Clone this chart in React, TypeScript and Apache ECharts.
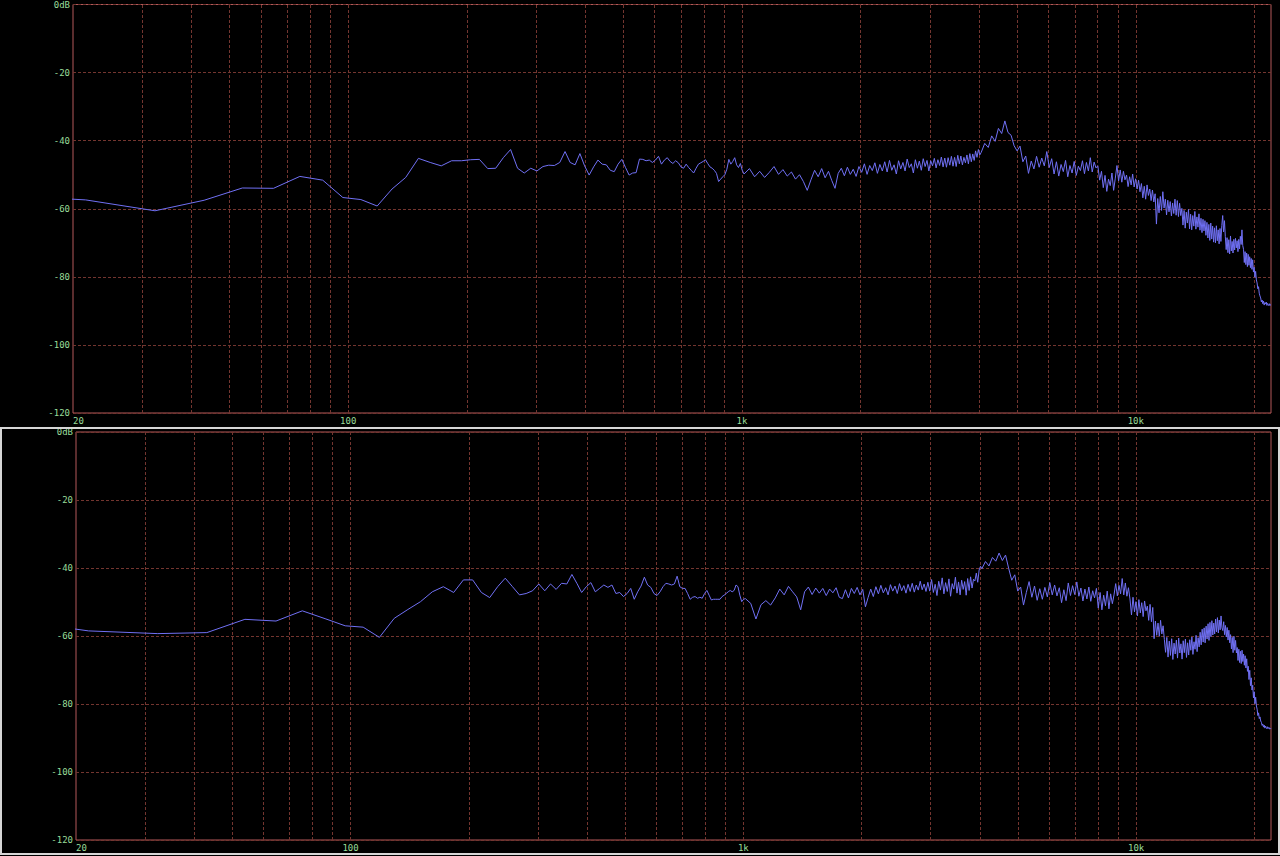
import React, { useEffect, useRef } from "react";
import * as echarts from "echarts";

// FFT bin spacing of the analyser (44.1 kHz, 4096 points)
const SAMPLE_RATE = 44100;
const FFT_SIZE = 4096;
const LOW_START_BIN = 1;
const MID_START_BIN = 94;
const MID_STEP = 3;
const HIGH_START_BIN = 376;
const HIGH_STEP = 8;

const X_MIN = 20;
const X_MAX = 22050;
const Y_MIN = -120;
const Y_MAX = 0;
const Y_STEP = 20;

const xLabelValues = [20, 100, 1000, 10000];
const gridFreqs = [
  30, 40, 50, 60, 70, 80, 90, 100, 200, 300, 400, 500, 600, 700, 800, 900, 1000,
  2000, 3000, 4000, 5000, 6000, 7000, 8000, 9000, 10000, 20000,
];

// ---- upper panel (dB) ----
const topLow = [
  -55.5, -57.4, -60.6, -57.5, -53.9, -54.0, -50.5, -51.6, -56.7, -57.3,
  -59.2, -54.2, -50.8, -45.2, -46.4, -47.4, -45.9, -45.9, -45.6, -45.5,
  -48.2, -48.1, -45.0, -42.6, -48.1, -49.5, -48.1, -48.9, -47.6, -47.2,
  -47.3, -46.4, -43.2, -46.4, -47.1, -43.8, -47.4, -50.1, -47.7, -45.7,
  -46.9, -47.1, -48.7, -49.1, -46.9, -45.5, -47.9, -50.1, -49.5, -49.4,
  -45.4, -45.5, -45.9, -45.7, -46.4, -45.7, -44.6, -46.9, -45.7, -45.0,
  -46.1, -46.7, -45.9, -46.5, -47.7, -48.1, -46.9, -47.9, -48.7, -49.5,
  -48.1, -46.9, -46.5, -46.1, -45.6, -46.7, -47.7, -48.1, -48.7, -49.6,
  -52.0, -51.3, -50.6, -50.0, -48.4, -45.5, -46.9, -46.1, -45.0, -47.1,
  -47.9, -46.7, -48.7,
];
const topMid = [
  -49.8, -48.2, -50.6, -49.0, -50.8, -49.3, -47.6, -49.9, -48.5, -50.4,
  -49.2, -51.3, -50.0, -52.0, -54.6, -51.5, -48.7, -50.6, -48.2, -50.9,
  -49.0, -51.7, -54.0, -49.6, -48.1, -50.3, -47.8, -49.9, -48.4, -50.5,
  -47.6, -49.3, -46.8, -49.9, -47.3, -48.8, -46.5, -49.6, -47.0, -48.9,
  -46.2, -49.2, -45.8, -48.7, -47.1, -49.8, -45.9, -48.3, -46.4, -48.9,
  -45.4, -47.9, -46.8, -49.5, -45.6, -48.1, -46.0, -48.7, -45.3, -47.6,
  -45.8, -48.9, -45.9, -47.4, -45.2, -48.0, -45.6, -47.3, -44.8, -47.7,
  -45.1, -47.8, -45.0, -47.2, -44.6, -47.5, -44.9, -47.6, -44.3, -46.8,
  -44.5, -47.1, -44.9, -46.5, -44.2, -46.8, -43.8, -46.2, -43.9, -45.8,
  -43.0, -44.9, -42.6, -44.2,
];
const topHigh = [
  -43.5, -40.8, -42.0, -38.6, -40.2, -36.4, -37.9, -34.2, -37.6, -38.4,
  -41.5, -43.0, -41.6, -46.2, -44.5, -49.6, -46.0, -48.3, -44.6, -47.8,
  -45.1, -47.4, -43.2, -47.9, -45.3, -49.8, -46.2, -50.4, -47.0, -49.1,
  -45.8, -50.6, -47.3, -49.5, -46.1, -50.2, -47.5, -48.8, -45.9, -49.7,
  -46.4, -48.9, -45.0, -49.2, -46.3, -48.0, -47.4, -51.6, -49.0, -53.8,
  -50.2, -54.9, -51.3, -53.2, -49.5, -54.6, -51.0, -47.3, -51.8, -48.6,
  -52.2, -49.0, -51.5, -50.1, -53.5, -50.6, -53.0, -49.8, -53.6, -51.2,
  -54.2, -51.6, -55.0, -52.6, -56.8, -53.4, -57.2, -53.0, -56.1, -54.2,
  -57.6, -54.5, -58.0, -55.6, -64.5, -57.0, -61.2, -56.4, -60.5, -55.0,
  -59.8, -57.2, -61.8, -57.5, -60.9, -57.9, -62.1, -58.3, -61.4, -57.2,
  -61.9, -57.6, -62.3, -58.4, -62.0, -59.9, -64.8, -60.5, -65.7, -61.0,
  -64.2, -60.2, -65.9, -61.6, -66.2, -62.0, -65.1, -60.8, -66.0, -62.4,
  -65.4, -61.5, -66.3, -62.8, -67.0, -63.1, -66.5, -63.5, -67.8, -64.0,
  -68.6, -64.6, -69.3, -64.2, -68.9, -65.1, -69.8, -65.6, -70.0, -65.0,
  -69.4, -66.2, -70.3, -65.8, -69.6, -64.9, -62.0, -66.8, -63.5, -68.2,
  -72.0, -68.5, -72.9, -69.1, -73.3, -68.0, -72.4, -69.6, -73.0, -69.0,
  -72.1, -68.7, -71.5, -69.4, -72.6, -69.0, -71.8, -68.1, -70.5, -66.2,
  -70.8, -71.9, -75.8, -72.6, -76.4, -73.0, -77.0, -73.4, -76.6, -74.1,
  -77.3, -74.6, -77.8, -75.0, -78.6, -77.2, -80.1, -78.4, -80.9, -81.8,
  -83.5, -82.9, -84.8, -85.6, -86.2, -87.4, -86.8, -87.9, -87.1, -88.3,
  -87.6, -88.0, -87.4, -88.4, -87.8, -88.1, -88.5, -87.9, -88.3, -88.4,
];

// ---- lower panel (dB) ----
const bottomLow = [
  -53.7, -58.5, -59.3, -59.0, -55.1, -55.6, -52.6, -54.9, -57.0, -57.4,
  -60.4, -54.8, -52.2, -49.9, -47.0, -45.5, -47.2, -43.5, -43.5, -47.2,
  -48.7, -45.5, -43.0, -45.5, -47.9, -47.5, -46.7, -44.7, -46.7, -44.7,
  -46.3, -44.5, -44.7, -41.9, -44.5, -47.2, -45.5, -44.3, -47.0, -46.0,
  -45.0, -45.7, -45.0, -47.5, -47.2, -48.4, -47.5, -46.0, -49.2, -47.0,
  -45.3, -42.7, -45.0, -45.7, -47.5, -48.1, -47.0, -45.5, -44.5, -44.7,
  -45.0, -44.7, -42.4, -45.5, -46.0, -46.0, -47.5, -49.2, -48.6, -48.4,
  -48.9, -48.6, -48.9, -47.5, -46.6, -48.0, -49.4, -49.2, -49.2, -49.2,
  -49.2, -48.4, -48.0, -47.5, -47.0, -46.6, -47.0, -46.6, -45.0, -45.5,
  -48.0, -49.9, -49.2,
];
const bottomMid = [
  -49.0, -50.4, -55.0, -50.8, -49.6, -50.9, -48.8, -46.2, -47.9, -45.4,
  -47.0, -48.5, -52.3, -47.0, -45.6, -47.8, -45.9, -47.4, -46.0, -48.1,
  -46.2, -47.3, -45.8, -48.6, -49.0, -46.4, -48.8, -46.0, -47.5, -45.7,
  -47.9, -46.3, -51.4, -48.7, -46.2, -48.4, -45.5, -47.6, -45.1, -47.3,
  -45.8, -47.9, -44.9, -46.8, -45.3, -47.5, -44.6, -46.7, -45.2, -47.4,
  -44.8, -46.9, -44.5, -47.1, -45.0, -46.5, -43.9, -46.4, -44.7, -46.9,
  -44.2, -46.8, -43.4, -47.2, -44.8, -48.1, -43.9, -46.5, -42.9, -47.6,
  -44.3, -46.9, -43.2, -48.3, -44.6, -46.2, -42.7, -47.4, -44.1, -47.9,
  -43.6, -46.3, -44.0, -48.0, -43.1, -46.6, -42.6, -45.9, -43.3, -43.8,
  -41.5, -44.2, -40.6, -39.5,
];
const bottomHigh = [
  -40.2, -38.1, -39.4, -36.9, -38.0, -35.6, -37.8, -36.2, -40.1, -43.6,
  -42.0, -46.8, -45.6, -50.9, -47.2, -44.0, -48.6, -45.3, -49.5, -46.1,
  -49.2, -45.7, -48.5, -44.3, -47.9, -45.0, -48.2, -45.8, -50.2, -46.4,
  -49.6, -44.4, -48.1, -45.2, -47.8, -44.1, -48.3, -45.9, -49.7, -46.2,
  -49.1, -45.6, -49.8, -46.7, -48.8, -46.0, -51.8, -47.2, -52.3, -48.0,
  -51.1, -46.8, -52.0, -47.6, -50.5, -47.9, -44.6, -48.2, -45.1, -47.6,
  -43.1, -47.9, -44.4, -48.3, -45.8, -49.1, -53.8, -48.6, -52.9, -49.9,
  -54.1, -49.3, -53.2, -50.2, -54.3, -49.7, -52.6, -51.2, -55.4, -50.7,
  -55.8, -51.6, -60.8, -55.6, -59.8, -56.2, -60.1, -55.4, -59.4, -57.0,
  -61.0, -64.8, -60.4, -66.2, -61.5, -65.7, -60.8, -66.9, -62.1, -65.3,
  -61.2, -66.5, -60.6, -65.0, -62.3, -66.8, -61.4, -64.9, -60.9, -66.3,
  -62.0, -65.6, -61.1, -64.2, -60.3, -65.4, -61.7, -63.9, -59.8, -64.6,
  -60.5, -63.2, -58.9, -62.6, -58.0, -61.8, -57.6, -62.0, -57.1, -60.9,
  -56.4, -61.3, -56.0, -60.2, -55.5, -59.7, -56.2, -59.4, -55.0, -58.8,
  -54.6, -59.1, -55.3, -58.2, -54.1, -57.6, -58.4, -55.8, -59.6, -56.9,
  -60.3, -57.5, -61.2, -58.3, -62.0, -59.6, -63.8, -60.4, -64.9, -60.1,
  -64.2, -61.3, -65.0, -63.4, -67.2, -63.9, -67.8, -64.5, -68.1, -64.2,
  -67.5, -65.3, -68.6, -65.8, -69.4, -66.7, -70.4, -68.9, -72.8, -70.1,
  -74.6, -72.3, -75.9, -74.5, -78.2, -76.4, -79.9, -78.0, -80.6, -81.5,
  -83.4, -82.6, -84.3, -83.8, -85.0, -85.4, -86.3, -85.9, -86.8, -86.2,
  -87.1, -86.5, -86.9, -87.3, -86.7, -87.2, -86.9, -87.4, -87.1, -87.3,
];

const BG = "#000000";
const FRAME = "#b4585a";
const GRID = "#73352f";
const LABEL = "#98dc98";
const LINE = "#7070f4";
const FONT = "'DejaVu Sans Mono', 'Liberation Mono', monospace";

function buildSeries(low: number[], mid: number[], high: number[]) {
  const binHz = SAMPLE_RATE / FFT_SIZE;
  const pts: number[][] = [];
  low.forEach((v, i) => pts.push([(LOW_START_BIN + i) * binHz, v]));
  mid.forEach((v, i) => pts.push([(MID_START_BIN + i * MID_STEP) * binHz, v]));
  high.forEach((v, i) => pts.push([(HIGH_START_BIN + i * HIGH_STEP) * binHz, v]));
  return pts;
}

function fmtFreq(v: number) {
  if (v >= 1000) return Math.round(v / 1000) + "k";
  if (Math.round(v) === X_MIN) return "{first|" + Math.round(v) + "}";
  return String(Math.round(v));
}

export default function App() {
  const ref = useRef<HTMLDivElement>(null);

  useEffect(() => {
    if (!ref.current) return;
    const chart = echarts.init(ref.current, undefined, { renderer: "svg" });
    const grids = [
      { left: 73, top: 3, width: 1198, height: 410 },
      { left: 76, top: 432, width: 1195, height: 408 },
    ];
    const datasets = [
      buildSeries(topLow, topMid, topHigh),
      buildSeries(bottomLow, bottomMid, bottomHigh),
    ];
    const option: any = {
      animation: false,
      backgroundColor: BG,
      grid: grids.map((g) => ({
        ...g,
        show: true,
        borderColor: FRAME,
        borderWidth: 1,
        backgroundColor: BG,
      })),
      xAxis: grids.map((_, i) => ({
        type: "log",
        logBase: 10,
        gridIndex: i,
        min: X_MIN,
        max: X_MAX,
        axisLine: { show: false },
        axisTick: { show: false },
        splitLine: { show: false },
        axisLabel: {
          customValues: xLabelValues,
          formatter: fmtFreq,
          color: LABEL,
          fontSize: 9,
          fontFamily: FONT,
          margin: 3,
          showMinLabel: true,
          showMaxLabel: true,
          hideOverlap: false,
          rich: {
            first: {
              color: LABEL,
              fontSize: 9,
              fontFamily: FONT,
              padding: [0, 0, 0, 11],
            },
          },
        },
      })),
      yAxis: grids.map((_, i) => ({
        type: "value",
        gridIndex: i,
        min: Y_MIN,
        max: Y_MAX,
        interval: Y_STEP,
        axisLine: { show: false },
        axisTick: { show: false },
        splitLine: {
          show: true,
          lineStyle: { color: GRID, type: [3, 2], width: 1 },
        },
        axisLabel: {
          formatter: (v: number) => (v === 0 ? "0dB" : String(v)),
          color: LABEL,
          fontSize: 9,
          fontFamily: FONT,
          margin: 3,
        },
      })),
      series: [
        ...grids.map((_, i) => ({
          type: "line",
          xAxisIndex: i,
          yAxisIndex: i,
          data: [],
          z: 1,
          silent: true,
          markLine: {
            silent: true,
            symbol: "none",
            label: { show: false },
            lineStyle: { color: GRID, type: [3, 2], width: 1 },
            data: gridFreqs.map((f) => ({ xAxis: f })),
          },
        })),
        ...grids.map((_, i) => ({
          type: "line",
          xAxisIndex: i,
          yAxisIndex: i,
          data: datasets[i],
          z: 5,
          symbol: "none",
          showSymbol: false,
          silent: true,
          lineStyle: { color: LINE, width: 1 },
        })),
      ],
      graphic: [
        {
          type: "rect",
          silent: true,
          shape: { x: 1, y: 428, width: 1278, height: 426 },
          style: { fill: "none", stroke: "#d6d6d6", lineWidth: 2 },
          z: 100,
        },
      ],
    };
    chart.setOption(option);
    return () => chart.dispose();
  }, []);

  return (
    <div
      ref={ref}
      style={{
        position: "fixed",
        left: 0,
        top: 0,
        width: 1280,
        height: 856,
        background: BG,
      }}
    />
  );
}
